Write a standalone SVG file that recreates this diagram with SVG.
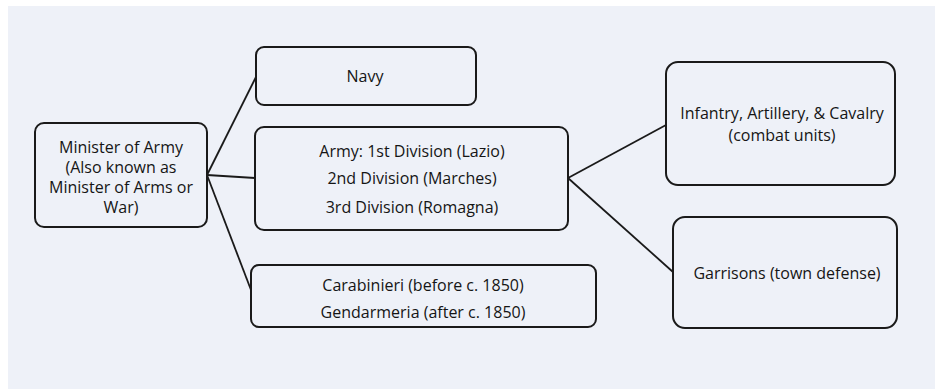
<svg xmlns="http://www.w3.org/2000/svg" width="935" height="389" viewBox="0 0 935 389">
<style>
.box{fill:none;stroke:#1a1a1a;stroke-width:2}
.t{font-family:"Open Sans","Liberation Sans",sans-serif;font-size:16px;fill:#151515;text-anchor:middle;dominant-baseline:central}
.c{stroke:#1a1a1a;stroke-width:1.8;fill:none}
</style>
<rect x="0" y="0" width="935" height="389" fill="#ffffff"/>
<rect x="8" y="6" width="927" height="383" fill="#eef1f8"/>
<g id="connectors">
<line class="c" x1="207" y1="175" x2="256" y2="77"/>
<line class="c" x1="207" y1="175" x2="255" y2="178"/>
<line class="c" x1="207" y1="175" x2="251" y2="290"/>
<line class="c" x1="568" y1="178" x2="666" y2="125"/>
<line class="c" x1="568" y1="178" x2="673" y2="272"/>
</g>
<g id="minister">
<rect class="box" x="35" y="123" width="172" height="104" rx="9"/>
<text class="t" x="121" y="147">Minister of Army</text>
<text class="t" x="121" y="167">(Also known as</text>
<text class="t" x="121" y="187">Minister of Arms or</text>
<text class="t" x="121" y="207">War)</text>
</g>
<g id="navy">
<rect class="box" x="256" y="47" width="220" height="58" rx="8"/>
<text class="t" x="365" y="76">Navy</text>
</g>
<g id="army">
<rect class="box" x="255" y="127" width="313" height="103" rx="9"/>
<text class="t" x="412" y="151">Army: 1st Division (Lazio)</text>
<text class="t" x="412" y="178">2nd Division (Marches)</text>
<text class="t" x="412" y="207">3rd Division (Romagna)</text>
</g>
<g id="police">
<rect class="box" x="251" y="265" width="345" height="62" rx="8"/>
<text class="t" x="423" y="285">Carabinieri (before c. 1850)</text>
<text class="t" x="423" y="312">Gendarmeria (after c. 1850)</text>
</g>
<g id="combat">
<rect class="box" x="666" y="62" width="229" height="123" rx="12"/>
<text class="t" x="782" y="113">Infantry, Artillery, &amp; Cavalry</text>
<text class="t" x="782" y="135">(combat units)</text>
</g>
<g id="garrisons">
<rect class="box" x="673" y="217" width="224" height="111" rx="12"/>
<text class="t" x="787" y="273">Garrisons (town defense)</text>
</g>
</svg>
